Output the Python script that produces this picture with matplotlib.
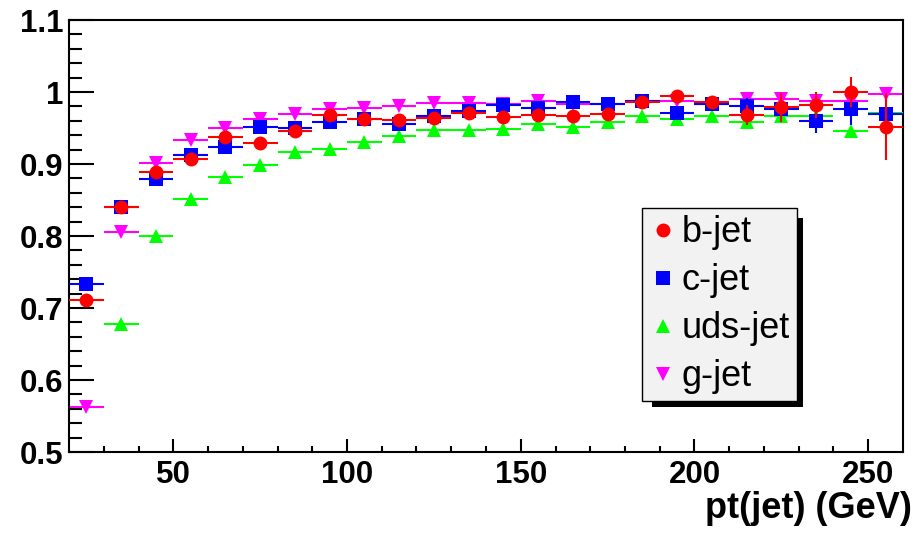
import numpy as np
import matplotlib
matplotlib.use('Agg')
import matplotlib.pyplot as plt
from matplotlib.patches import Rectangle
from matplotlib.lines import Line2D

plt.rcParams['font.family'] = ['Liberation Sans', 'DejaVu Sans']

# bin centres (GeV), bin half-width 5
pt = [25, 35, 45, 55, 65, 75, 85, 95, 105, 115, 125, 135,
      145, 155, 165, 175, 185, 195, 205, 215, 225, 235, 245, 255]

b_eff = [0.711, 0.840, 0.889, 0.907, 0.937, 0.929, 0.946, 0.968, 0.962, 0.961, 0.964, 0.971,
         0.965, 0.968, 0.966, 0.969, 0.986, 0.995, 0.986, 0.968, 0.979, 0.982, 1.000, 0.952]
b_err = [0.004, 0.003, 0.003, 0.003, 0.003, 0.003, 0.003, 0.003, 0.004, 0.004, 0.004, 0.005,
         0.005, 0.006, 0.006, 0.007, 0.006, 0.005, 0.007, 0.014, 0.020, 0.018, 0.021, 0.046]

c_eff = [0.733, 0.840, 0.879, 0.912, 0.923, 0.952, 0.950, 0.958, 0.962, 0.956, 0.966, 0.973,
         0.982, 0.978, 0.986, 0.984, 0.988, 0.971, 0.983, 0.981, 0.976, 0.960, 0.977, 0.969]
c_err = [0.004, 0.003, 0.003, 0.003, 0.003, 0.003, 0.003, 0.004, 0.004, 0.004, 0.005, 0.005,
         0.005, 0.006, 0.006, 0.007, 0.007, 0.008, 0.008, 0.010, 0.010, 0.017, 0.023, 0.008]

uds_eff = [np.nan, 0.678, 0.800, 0.851, 0.882, 0.899, 0.916, 0.921, 0.931, 0.939, 0.947, 0.947,
           0.948, 0.955, 0.952, 0.958, 0.966, 0.962, 0.967, 0.958, 0.967, 0.967, 0.946, 0.971]
uds_err = [0.003, 0.003, 0.002, 0.002, 0.002, 0.002, 0.002, 0.002, 0.002, 0.003, 0.003, 0.003,
           0.003, 0.003, 0.003, 0.004, 0.004, 0.004, 0.004, 0.005, 0.005, 0.005, 0.006, 0.006]

g_eff = [0.563, 0.805, 0.902, 0.933, 0.950, 0.963, 0.970, 0.976, 0.978, 0.980, 0.985, 0.985,
         0.983, 0.988, 0.984, 0.984, 0.987, 0.988, 0.984, 0.990, 0.990, 0.988, 0.988, 0.997]
g_err = [0.003, 0.002, 0.002, 0.002, 0.002, 0.002, 0.002, 0.002, 0.002, 0.002, 0.002, 0.003,
         0.003, 0.003, 0.003, 0.003, 0.003, 0.004, 0.004, 0.004, 0.004, 0.005, 0.005, 0.005]

series = [
    ('b-jet', b_eff, b_err, 'o', '#ff0000', 5),
    ('c-jet', c_eff, c_err, 's', '#0000ff', 4),
    ('uds-jet', uds_eff, uds_err, '^', '#00ff00', 3),
    ('g-jet', g_eff, g_err, 'v', '#ff00ff', 2),
]

fig = plt.figure(figsize=(9.2, 5.34), dpi=100)
ax = fig.add_axes([69 / 920, 1 - 452 / 534, 834 / 920, 432 / 534])

handles = []
for label, eff, err, mk, col, z in series:
    ax.errorbar(pt, eff, yerr=err, xerr=5, fmt=mk, color=col, ms=10, mew=0,
                elinewidth=1.5, capsize=0, zorder=z)
    handles.append(Line2D([], [], ls='none', marker=mk, color=col, ms=10, mew=0, label=label))

ax.set_xlim(20, 260)
ax.set_ylim(0.5, 1.1)
ax.set_xticks([50, 100, 150, 200, 250])
ax.set_xticks(np.arange(30, 260, 10), minor=True)
ax.set_yticks([0.5, 0.6, 0.7, 0.8, 0.9, 1.0, 1.1])
ax.set_yticks(np.arange(0.5, 1.1, 0.02), minor=True)
ax.set_yticklabels(['0.5', '0.6', '0.7', '0.8', '0.9', '1', '1.1'])
ax.tick_params(axis='both', which='both', direction='in', top=False, right=False,
               labelsize=22.5, width=1.5)
ax.tick_params(axis='y', which='major', length=18, pad=4)
ax.tick_params(axis='y', which='minor', length=9)
ax.tick_params(axis='x', which='major', length=9.5, pad=6)
ax.tick_params(axis='x', which='minor', length=4.5)
for lab in ax.get_xticklabels() + ax.get_yticklabels():
    lab.set_fontweight('bold')
for sp in ax.spines.values():
    sp.set_linewidth(1.5)

fig.text(912 / 920, 1 - 518 / 534, 'pt(jet) (GeV)', ha='right', va='baseline',
         fontsize=26, fontweight='bold')

leg = ax.legend(handles=handles, loc='upper left', bbox_to_anchor=(642 / 920, 1 - 208 / 534),
                bbox_transform=fig.transFigure, fontsize=26, frameon=True,
                fancybox=False, edgecolor='black', facecolor='#f2f2f2', framealpha=1,
                borderpad=0.2, handlelength=0.75, handletextpad=0.15, labelspacing=0.36,
                borderaxespad=0, numpoints=1)
leg.get_frame().set_linewidth(1.0)

fig.canvas.draw()
bb = leg.get_window_extent()
inv = ax.transAxes.inverted()
x0, y0 = inv.transform((bb.x0 + 10, bb.y0 - 6))
x1, y1 = inv.transform((bb.x1 + 6, bb.y1 - 10))
ax.add_patch(Rectangle((x0, y0), x1 - x0, y1 - y0, transform=ax.transAxes,
                       facecolor='black', edgecolor='none', zorder=4.9, clip_on=False))

fig.savefig('out.png', dpi=100)
